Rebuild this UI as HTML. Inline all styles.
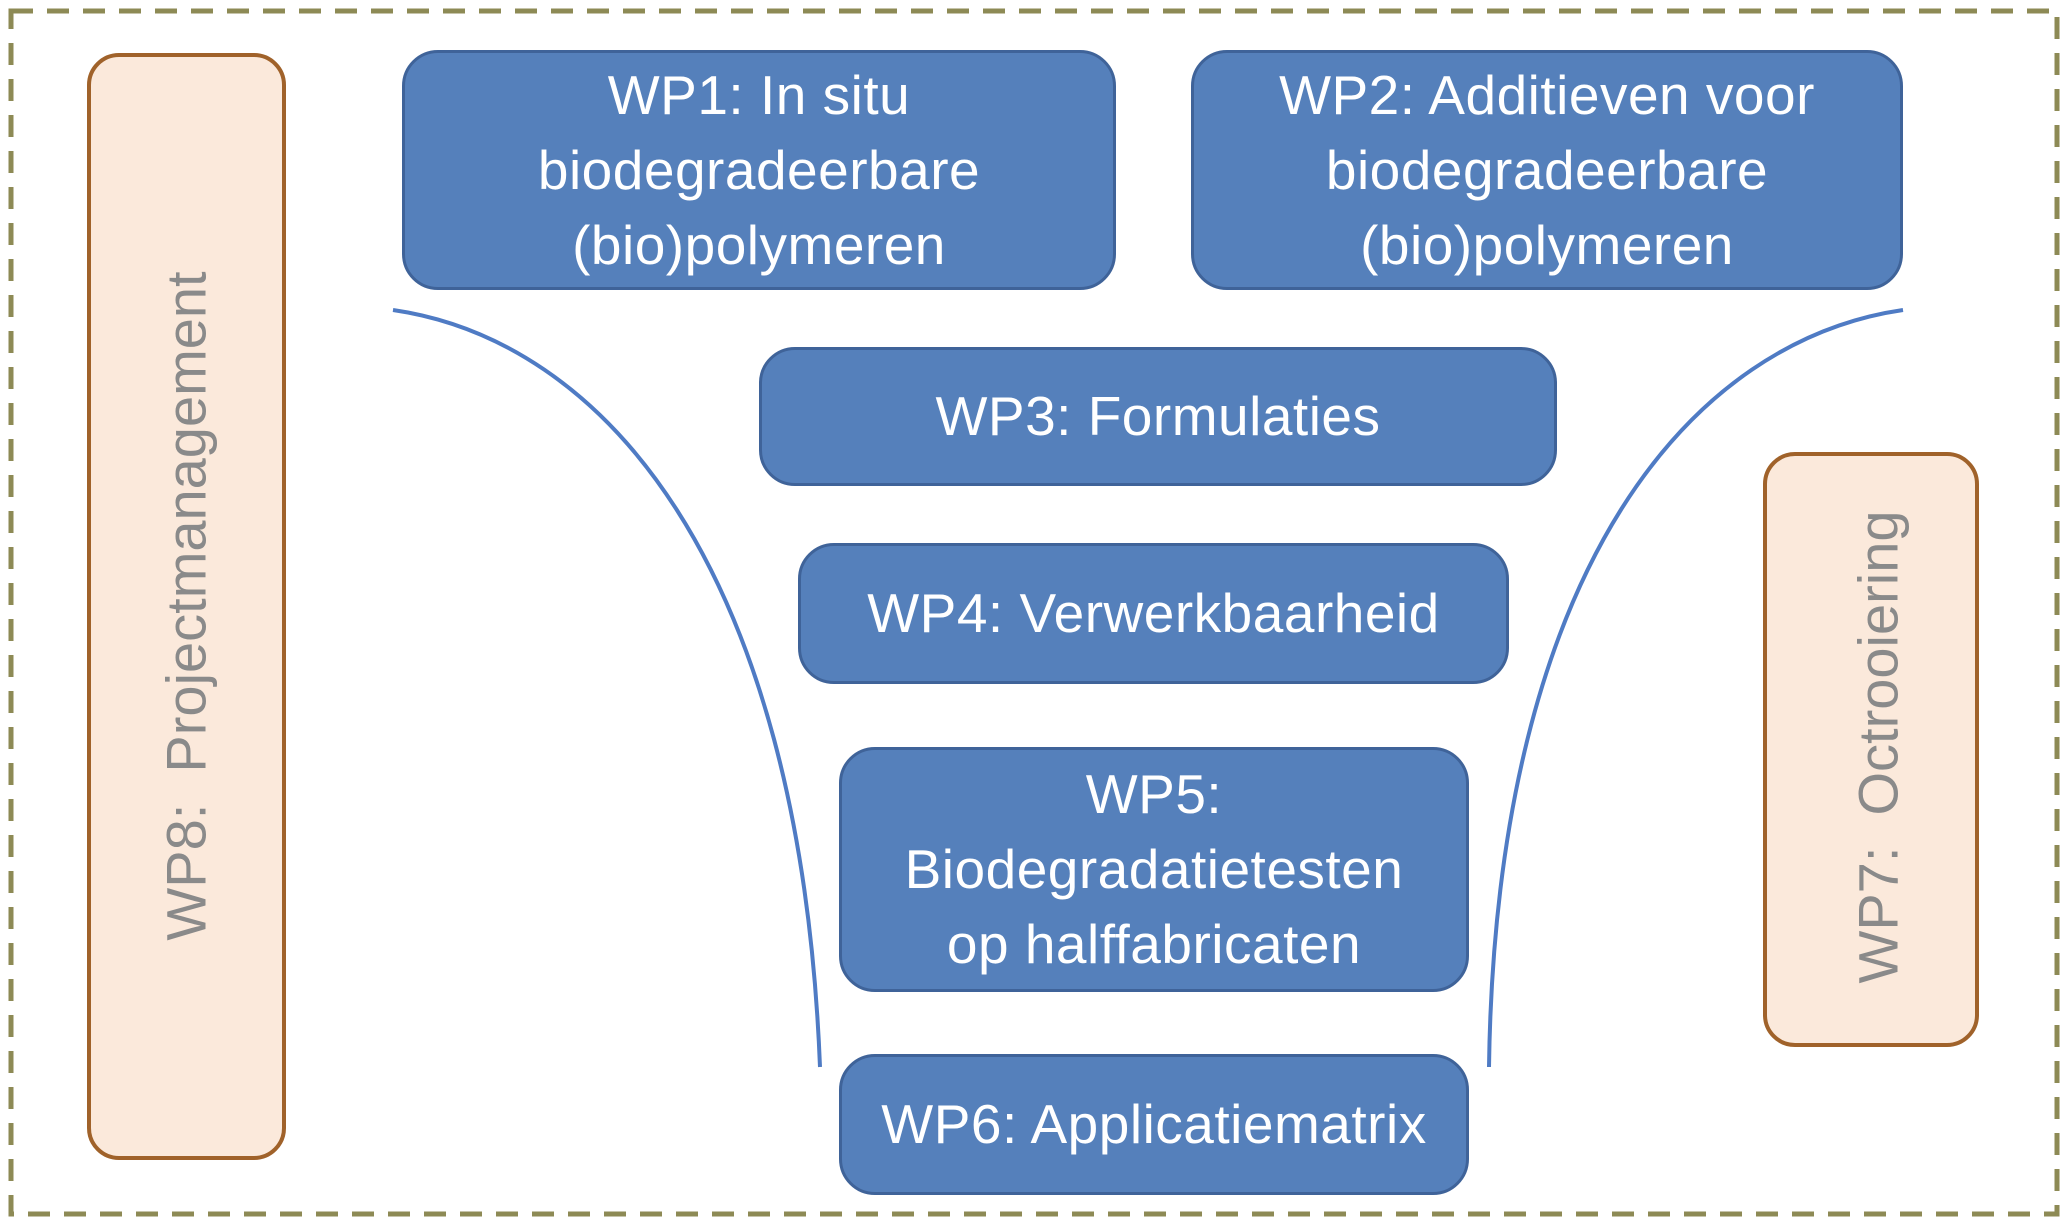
<!DOCTYPE html>
<html><head><style>
body{margin:0;width:2066px;height:1232px;background:#fff;position:relative;overflow:hidden;font-family:"Liberation Sans","DejaVu Sans",sans-serif}
.b{position:absolute;box-sizing:border-box;background:#5580bb;border:3px solid #3f6399;border-radius:36px;color:#fff;font-size:55px;letter-spacing:0.5px;line-height:75px;text-align:center;display:flex;align-items:center;justify-content:center;white-space:nowrap}
.o{position:absolute;box-sizing:border-box;background:#fbe9db;border:4px solid #a0622a;border-radius:32px}
.v{position:absolute;color:#8a8a8a;font-size:56px;white-space:pre;transform:translate(-50%,-50%) rotate(-90deg)}
</style></head><body>
<svg width="2066" height="1232" style="position:absolute;left:0;top:0">
<rect x="11" y="11" width="2046" height="1203" fill="none" stroke="#8d8a55" stroke-width="5" stroke-dasharray="22 14"/>
<path d="M393,310 C600,340 800,560 820,1067" fill="none" stroke="#4f7bc4" stroke-width="4"/>
<path d="M1903,310 C1696,340 1496,560 1489,1067" fill="none" stroke="#4f7bc4" stroke-width="4"/>
</svg>
<div class="o" style="left:87px;top:53px;width:199px;height:1107px"></div>
<div class="o" style="left:1763px;top:452px;width:216px;height:595px"></div>
<div class="v" style="left:186px;top:606px">WP8:  Projectmanagement</div>
<div class="v" style="left:1878px;top:747px">WP7:  Octrooiering</div>
<div class="b" style="left:402px;top:50px;width:714px;height:240px">WP1: In situ<br>biodegradeerbare<br>(bio)polymeren</div>
<div class="b" style="left:1191px;top:50px;width:712px;height:240px">WP2: Additieven voor<br>biodegradeerbare<br>(bio)polymeren</div>
<div class="b" style="left:759px;top:347px;width:798px;height:139px">WP3: Formulaties</div>
<div class="b" style="left:798px;top:543px;width:711px;height:141px">WP4: Verwerkbaarheid</div>
<div class="b" style="left:839px;top:747px;width:630px;height:245px">WP5:<br>Biodegradatietesten<br>op halffabricaten</div>
<div class="b" style="left:839px;top:1054px;width:630px;height:141px">WP6: Applicatiematrix</div>
</body></html>
